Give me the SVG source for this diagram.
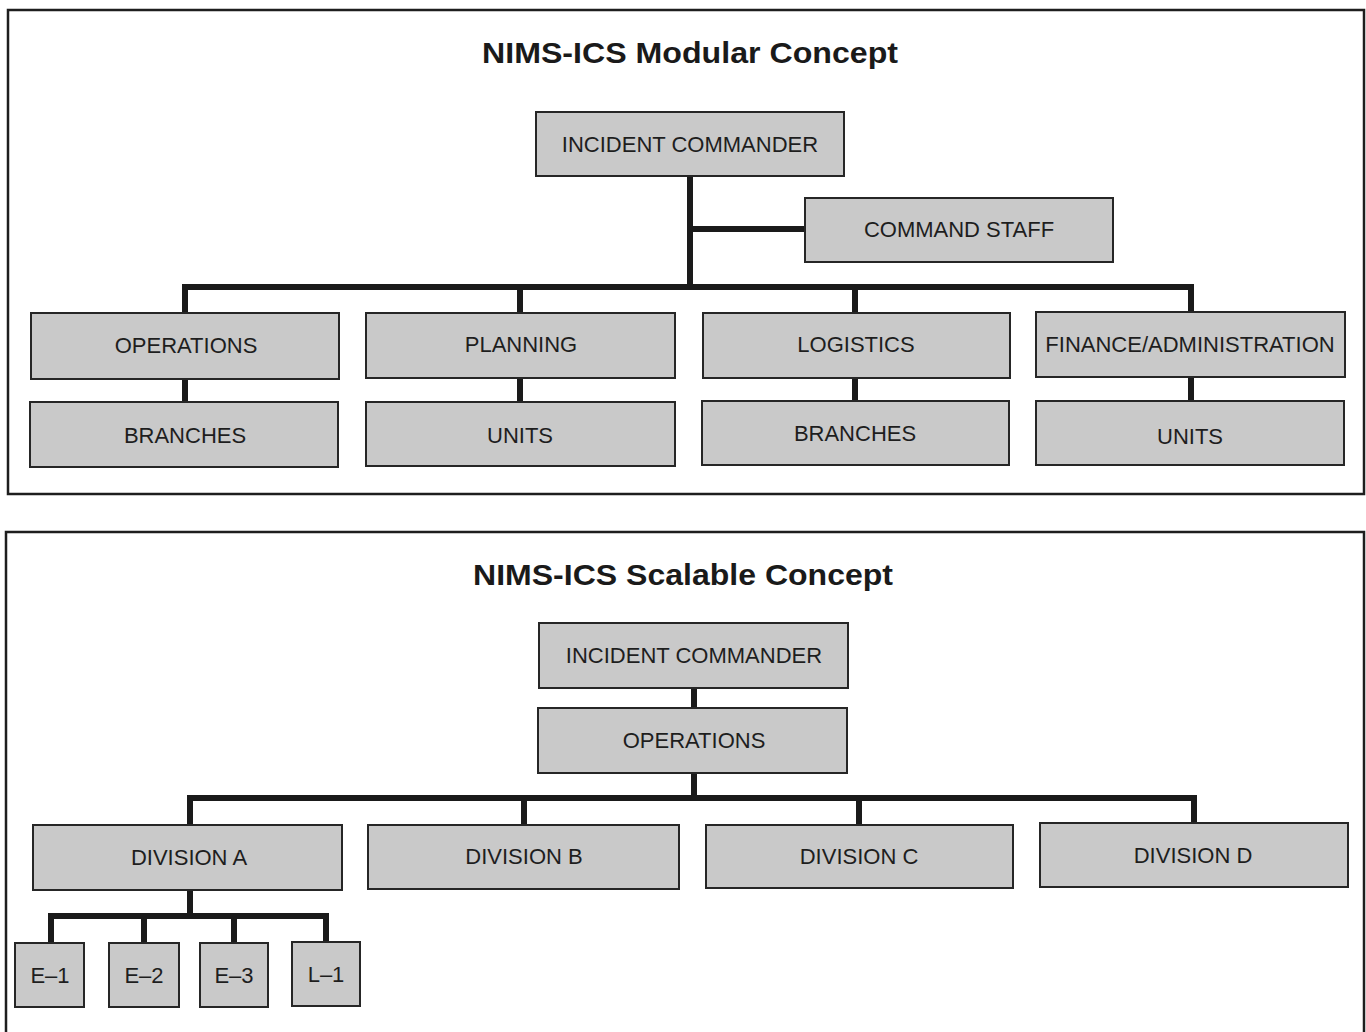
<svg xmlns="http://www.w3.org/2000/svg" width="1366" height="1032" viewBox="0 0 1366 1032">
<style>
.frame{fill:none;stroke:#1e1e1e;stroke-width:2.5}
.box{fill:#c9c9c9;stroke:#262626;stroke-width:2}
.lbl{font-family:"Liberation Sans",Arial,sans-serif;font-size:22px;fill:#1e1e1e;text-anchor:middle}
.title{font-family:"Liberation Sans",Arial,sans-serif;font-size:30px;font-weight:bold;fill:#1a1a1a;text-anchor:middle}
.con{fill:none;stroke:#1a1a1a;stroke-width:6;stroke-linecap:butt;stroke-linejoin:miter}
</style>
<rect width="1366" height="1032" fill="#ffffff"/>
<rect class="frame" x="8" y="10" width="1356" height="484"/>
<path class="frame" d="M6,1040 V532 H1364 V1040"/>
<text class="title" x="690" y="63" textLength="416" lengthAdjust="spacingAndGlyphs">NIMS-ICS Modular Concept</text>
<text class="title" x="683" y="585" textLength="420" lengthAdjust="spacingAndGlyphs">NIMS-ICS Scalable Concept</text>
<g id="connectors">
<path class="con" d="M690,176 V287"/>
<path class="con" d="M690,229 H805"/>
<path class="con" d="M185,313 V287 H1191 V313"/>
<path class="con" d="M520,287 V313"/>
<path class="con" d="M855,287 V313"/>
<path class="con" d="M185,379 V402"/>
<path class="con" d="M520,378 V402"/>
<path class="con" d="M855,378 V401"/>
<path class="con" d="M1191,377 V401"/>
<path class="con" d="M694,688 V708"/>
<path class="con" d="M694,773 V798"/>
<path class="con" d="M190,825 V798 H1194 V823"/>
<path class="con" d="M524,798 V825"/>
<path class="con" d="M859,798 V825"/>
<path class="con" d="M190,890 V916"/>
<path class="con" d="M51,943 V916 H326 V943"/>
<path class="con" d="M144,916 V943"/>
<path class="con" d="M234,916 V943"/>
</g>
<g id="m-ic"><rect class="box" x="536" y="112" width="308" height="64"/><text class="lbl" x="690" y="152">INCIDENT COMMANDER</text></g>
<g id="m-staff"><rect class="box" x="805" y="198" width="308" height="64"/><text class="lbl" x="959" y="237">COMMAND STAFF</text></g>
<g id="m-ops"><rect class="box" x="31" y="313" width="308" height="66"/><text class="lbl" x="186" y="353">OPERATIONS</text></g>
<g id="m-plan"><rect class="box" x="366" y="313" width="309" height="65"/><text class="lbl" x="521" y="352">PLANNING</text></g>
<g id="m-log"><rect class="box" x="703" y="313" width="307" height="65"/><text class="lbl" x="856" y="352">LOGISTICS</text></g>
<g id="m-fin"><rect class="box" x="1036" y="312" width="309" height="65"/><text class="lbl" x="1190" y="352">FINANCE/ADMINISTRATION</text></g>
<g id="m-br1"><rect class="box" x="30" y="402" width="308" height="65"/><text class="lbl" x="185" y="443">BRANCHES</text></g>
<g id="m-un1"><rect class="box" x="366" y="402" width="309" height="64"/><text class="lbl" x="520" y="443">UNITS</text></g>
<g id="m-br2"><rect class="box" x="702" y="401" width="307" height="64"/><text class="lbl" x="855" y="441">BRANCHES</text></g>
<g id="m-un2"><rect class="box" x="1036" y="401" width="308" height="64"/><text class="lbl" x="1190" y="444">UNITS</text></g>
<g id="s-ic"><rect class="box" x="539" y="623" width="309" height="65"/><text class="lbl" x="694" y="663">INCIDENT COMMANDER</text></g>
<g id="s-ops"><rect class="box" x="538" y="708" width="309" height="65"/><text class="lbl" x="694" y="748">OPERATIONS</text></g>
<g id="s-da"><rect class="box" x="33" y="825" width="309" height="65"/><text class="lbl" x="189" y="865">DIVISION A</text></g>
<g id="s-db"><rect class="box" x="368" y="825" width="311" height="64"/><text class="lbl" x="524" y="864">DIVISION B</text></g>
<g id="s-dc"><rect class="box" x="706" y="825" width="307" height="63"/><text class="lbl" x="859" y="864">DIVISION C</text></g>
<g id="s-dd"><rect class="box" x="1040" y="823" width="308" height="64"/><text class="lbl" x="1193" y="863">DIVISION D</text></g>
<g id="s-e1"><rect class="box" x="15" y="943" width="69" height="64"/><text class="lbl" x="50" y="983">E–1</text></g>
<g id="s-e2"><rect class="box" x="109" y="943" width="70" height="64"/><text class="lbl" x="144" y="983">E–2</text></g>
<g id="s-e3"><rect class="box" x="200" y="943" width="68" height="64"/><text class="lbl" x="234" y="983">E–3</text></g>
<g id="s-l1"><rect class="box" x="292" y="942" width="68" height="64"/><text class="lbl" x="326" y="982">L–1</text></g>
</svg>
